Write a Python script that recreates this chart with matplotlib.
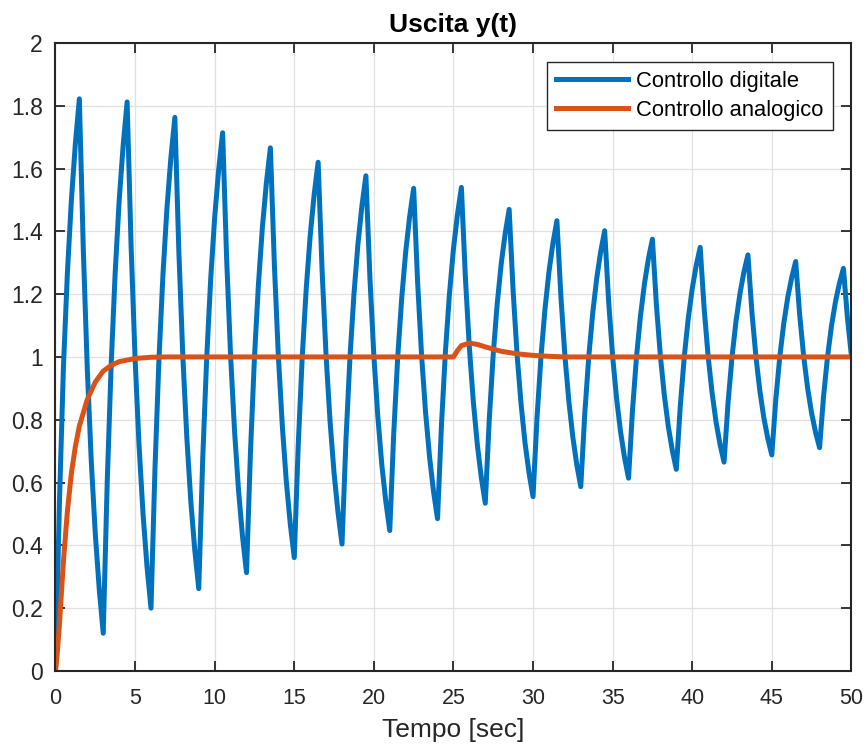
import numpy as np
import matplotlib
matplotlib.use("Agg")
import matplotlib.pyplot as plt

# digital control output, read every 0.25 s from 0 to 50 s
t_dig = np.linspace(0, 50, 201)
y_dig = [
    0.000, 0.540, 0.970, 1.270, 1.500, 1.680,
    1.822, 1.337, 0.959, 0.666, 0.437, 0.260,
    0.120, 0.602, 0.978, 1.269, 1.497, 1.673,
    1.812, 1.353, 0.995, 0.717, 0.500, 0.332,
    0.200, 0.645, 0.992, 1.261, 1.472, 1.635,
    1.763, 1.335, 1.002, 0.744, 0.541, 0.385,
    0.262, 0.676, 0.998, 1.248, 1.444, 1.595,
    1.714, 1.315, 1.004, 0.763, 0.574, 0.428,
    0.313, 0.699, 0.999, 1.232, 1.414, 1.555,
    1.666, 1.294, 1.004, 0.780, 0.604, 0.468,
    0.361, 0.720, 0.999, 1.216, 1.386, 1.517,
    1.620, 1.273, 1.003, 0.794, 0.630, 0.504,
    0.404, 0.738, 0.999, 1.200, 1.359, 1.481,
    1.577, 1.255, 1.004, 0.810, 0.657, 0.540,
    0.447, 0.758, 1.000, 1.187, 1.334, 1.448,
    1.537, 1.237, 1.004, 0.823, 0.681, 0.571,
    0.485, 0.786, 1.020, 1.201, 1.344, 1.453,
    1.540, 1.253, 1.030, 0.857, 0.721, 0.616,
    0.534, 0.801, 1.009, 1.170, 1.296, 1.393,
    1.470, 1.209, 1.006, 0.849, 0.725, 0.630,
    0.555, 0.806, 1.001, 1.152, 1.271, 1.362,
    1.434, 1.193, 1.005, 0.859, 0.745, 0.656,
    0.587, 0.819, 1.000, 1.140, 1.250, 1.335,
    1.402, 1.177, 1.002, 0.867, 0.761, 0.679,
    0.614, 0.831, 1.000, 1.131, 1.233, 1.313,
    1.375, 1.166, 1.003, 0.877, 0.778, 0.702,
    0.642, 0.843, 1.000, 1.122, 1.217, 1.291,
    1.349, 1.154, 1.002, 0.885, 0.792, 0.721,
    0.665, 0.853, 1.000, 1.113, 1.202, 1.271,
    1.325, 1.143, 1.002, 0.892, 0.806, 0.740,
    0.688, 0.864, 1.000, 1.106, 1.189, 1.253,
    1.304, 1.135, 1.003, 0.901, 0.821, 0.760,
    0.711, 0.874, 1.000, 1.099, 1.176, 1.235,
    1.282, 1.125, 1.004,
]

# analog control output
t_ana = [0.0, 0.1, 0.25, 0.5, 0.75, 1.0, 1.25, 1.5, 2.0, 2.5, 3.0, 3.5, 4.0,
         4.5, 5.0, 6.0, 7.0, 25.0, 25.25, 25.5, 26.0, 26.5, 27.0, 27.5, 28.0,
         29.0, 30.0, 31.0, 32.0, 50.0]
y_ana = [0.0, 0.05, 0.15, 0.35, 0.51, 0.63, 0.715, 0.78, 0.865, 0.92, 0.955,
         0.973, 0.985, 0.99, 0.995, 0.999, 1.0, 1.0, 1.02, 1.036, 1.044, 1.04,
         1.032, 1.025, 1.018, 1.01, 1.005, 1.002, 1.0, 1.0]

labels = ["Controllo digitale", "Controllo analogico"]
colors = ["#0072BD", "#D95319"]

plt.rcParams["font.family"] = ["Liberation Sans", "DejaVu Sans"]
ink = "#262626"

fig = plt.figure(figsize=(8.67, 7.48), dpi=100)
ax = fig.add_axes([0.064, 0.103, 0.918, 0.8396])

ax.plot(t_dig, y_dig, color=colors[0], lw=3.6, label=labels[0],
        solid_joinstyle="round")
ax.plot(t_ana, y_ana, color=colors[1], lw=3.6, label=labels[1],
        solid_joinstyle="round")

ax.set_xlim(0, 50)
ax.set_ylim(0, 2)
ax.set_xticks(np.arange(0, 51, 5))
ax.set_yticks(np.arange(0, 2.01, 0.2))
ax.set_yticklabels(["0", "0.2", "0.4", "0.6", "0.8", "1", "1.2", "1.4",
                    "1.6", "1.8", "2"])
ax.grid(True, color="#e0e0e0", lw=0.9)
ax.set_axisbelow(True)
ax.tick_params(direction="in", top=True, right=True, length=7, width=1.3,
               colors=ink)
ax.tick_params(axis="x", labelsize=15.5, pad=12)
ax.tick_params(axis="y", labelsize=16.5, pad=9)
for s in ax.spines.values():
    s.set_color(ink)
    s.set_linewidth(1.5)

ax.set_xlabel("Tempo [sec]", fontsize=19, color=ink, labelpad=7)
ax.set_title("Uscita y(t)", fontsize=19, fontweight="bold", color="black",
             pad=8)

leg = ax.legend(loc="upper right", fontsize=15.8, fancybox=False,
                edgecolor=ink, framealpha=1, handlelength=3.3,
                handletextpad=0.35, borderaxespad=0.85, borderpad=0.42,
                labelspacing=0.38)
leg.get_frame().set_linewidth(1.0)

fig.savefig("out.png", dpi=100)
